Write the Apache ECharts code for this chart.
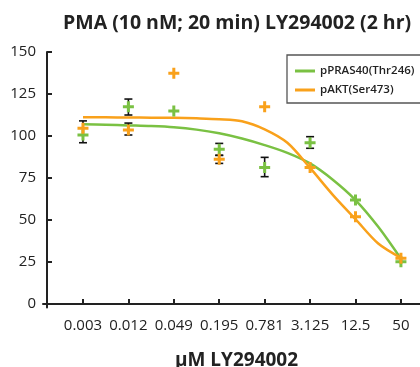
<!DOCTYPE html>
<html>
<head>
<meta charset="utf-8">
<script src="https://cdn.jsdelivr.net/npm/echarts@6/dist/echarts.min.js"></script>
<style>
  html, body { margin: 0; padding: 0; background: #fff; }
  #chart { width: 420px; height: 367px; }
</style>
</head>
<body>
<div id="chart"></div>
<script>
// x categories (drug concentration, uM)
const categories = ['0.003', '0.012', '0.049', '0.195', '0.781', '3.125', '12.5', '50']
const yTicks = [0, 25, 50, 75, 100, 125, 150]

// measured points (index on x, value)
const prasPoints = [100.6, 117.4, 114.9, 92.1, 81.2, 96.0, 61.9, 25.2]
const aktPoints = [104.6, 103.6, 137.3, 86.1, 117.4, 81.2, 52.0, 27.2]

// error bars [x index, low, high]
const prasErr = [[0, 96, 109], [1, 112.5, 122], [3, 88.5, 95.6], [4, 75.8, 87.3], [5, 92.7, 99.6]]
const aktErr = [[1, 100.6, 107.7], [3, 83.7, 88.5]]

// fitted curves [x index, value]
const prasCurve = [[0, 107.0], [0.5, 106.7], [1, 106.3], [1.5, 105.9], [2, 105.2], [2.5, 103.8], [3, 101.6], [3.5, 98.5],
  [4, 94.6], [4.5, 90.0], [5, 83.7], [5.5, 74.0], [6, 61.9], [6.5, 46.0], [7, 27.0]]
const aktCurve = [[0, 111.2], [0.5, 111.1], [1, 111.0], [1.5, 110.9], [2, 110.8], [2.5, 110.5], [3, 110.0], [3.5, 108.8],
  [4, 104.0], [4.5, 96.0], [5, 81.0], [5.5, 65.0], [6, 50.5], [6.5, 36.0], [7, 27.5]]

const GREEN = '#7AC143'
const ORANGE = '#F9A11B'
const FONT = 'Open Sans'
const plus = 'path://M4,0H7V4H11V7H7V11H4V7H0V4H4Z'

const chart = echarts.init(document.getElementById('chart'))

const errSeries = (data) => ({
  type: 'custom',
  z: 3,
  silent: true,
  data: data,
  renderItem: (params, api) => {
    const x = api.value(0)
    const lo = api.coord([x, api.value(1)])
    const hi = api.coord([x, api.value(2)])
    const w = 4
    const st = { stroke: '#111', lineWidth: 1.6 }
    return {
      type: 'group',
      children: [
        { type: 'line', shape: { x1: lo[0], y1: lo[1], x2: hi[0], y2: hi[1] }, style: st },
        { type: 'line', shape: { x1: lo[0] - w, y1: lo[1], x2: lo[0] + w, y2: lo[1] }, style: st },
        { type: 'line', shape: { x1: hi[0] - w, y1: hi[1], x2: hi[0] + w, y2: hi[1] }, style: st }
      ]
    }
  }
})

const option = {
  animation: false,
  title: {
    text: 'PMA (10 nM; 20 min) LY294002 (2 hr)',
    left: 58,
    top: 8,
    textStyle: { fontFamily: FONT, fontSize: 19.5, fontWeight: 'bold', color: '#222' }
  },
  legend: {
    orient: 'vertical',
    left: 287,
    top: 55,
    padding: [9, 20, 6, 8],
    itemGap: 5,
    itemWidth: 20,
    itemHeight: 3,
    icon: 'rect',
    borderColor: '#555',
    borderWidth: 1.3,
    data: ['pPRAS40(Thr246)', 'pAKT(Ser473)'],
    textStyle: { fontFamily: FONT, fontSize: 11.5, fontWeight: 600, color: '#222', lineHeight: 14 }
  },
  grid: { left: 43, right: 0, top: 52, bottom: 59.6, containLabel: false, outerBoundsMode: 'none' },
  xAxis: {
    type: 'value',
    min: -0.88,
    max: 7.42,
    name: 'µM LY294002',
    nameLocation: 'middle',
    nameGap: 44,
    nameTextStyle: { fontFamily: FONT, fontSize: 19, fontWeight: 'bold', color: '#222', padding: [0, 0, 0, 10] },
    axisLine: { onZero: true, lineStyle: { color: '#222', width: 2 } },
    axisTick: { inside: true, length: 5, lineStyle: { width: 2, color: '#222' }, customValues: [0, 1, 2, 3, 4, 5, 6, 7] },
    axisLabel: {
      customValues: [0, 1, 2, 3, 4, 5, 6, 7],
      formatter: (v) => categories[Math.round(v)],
      margin: 11,
      fontFamily: FONT, fontSize: 15, color: '#222'
    },
    splitLine: { show: false }
  },
  yAxis: {
    type: 'value',
    min: -2,
    max: 150,
    offset: -4,
    axisLine: { show: true, onZero: false, lineStyle: { color: '#222', width: 2 } },
    axisTick: { inside: true, length: 5, lineStyle: { width: 2, color: '#222' }, customValues: yTicks },
    axisLabel: { customValues: yTicks, margin: 11, fontFamily: FONT, fontSize: 15, color: '#222' },
    splitLine: { show: false }
  },
  series: [
    {
      name: 'pPRAS40(Thr246)',
      type: 'line',
      data: prasCurve,
      smooth: 0.3,
      showSymbol: false,
      z: 2,
      lineStyle: { color: GREEN, width: 2.5 },
      itemStyle: { color: GREEN }
    },
    {
      name: 'pAKT(Ser473)',
      type: 'line',
      data: aktCurve,
      smooth: 0.3,
      showSymbol: false,
      z: 2,
      lineStyle: { color: ORANGE, width: 2.5 },
      itemStyle: { color: ORANGE }
    },
    errSeries(prasErr),
    errSeries(aktErr),
    {
      type: 'scatter',
      z: 4,
      symbol: plus,
      symbolSize: 11,
      itemStyle: { color: GREEN, opacity: 1 },
      data: prasPoints.map((v, i) => [i, v])
    },
    {
      type: 'scatter',
      z: 4,
      symbol: plus,
      symbolSize: 11,
      itemStyle: { color: ORANGE, opacity: 1 },
      data: aktPoints.map((v, i) => [i, v])
    }
  ]
}

chart.setOption(option)
</script>
</body>
</html>
